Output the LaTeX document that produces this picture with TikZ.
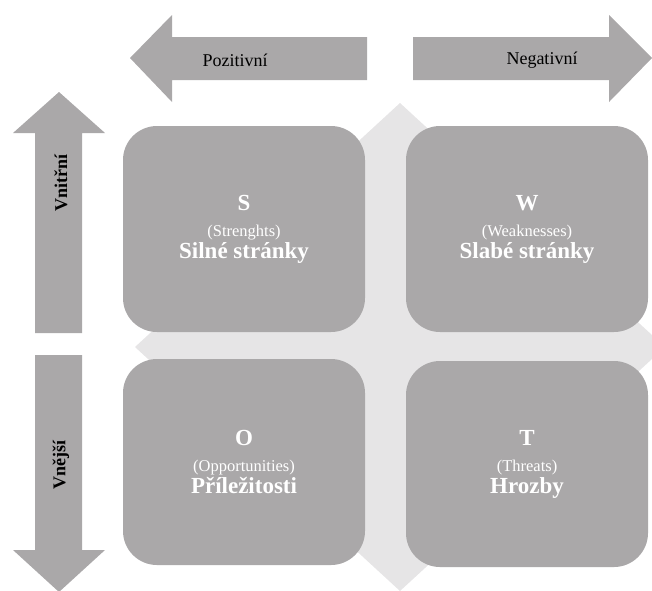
\documentclass[tikz,border=0pt]{standalone}
\usepackage{fontspec}
\setmainfont{Liberation Serif}
\definecolor{swotgray}{HTML}{AAA8A9}
\definecolor{swotlight}{HTML}{E6E5E6}

\begin{document}
\begin{tikzpicture}[x=1pt, y=-1pt,
        quad/.style={fill=swotgray, rounded corners=34pt, minimum width=242pt,
                     minimum height=206pt, align=center, text=white,
                     font=\fontsize{16.5}{25}\selectfont},
        arrowshape/.style={fill=swotgray},
        axis/.style={font=\fontsize{18}{20}\selectfont, text=black},
        axisv/.style={axis, font=\bfseries\fontsize{18}{20}\selectfont, rotate=90}
      ]
        \useasboundingbox (0,0) rectangle (652,590);
        \clip (0,0) rectangle (652,590);

        % background diamond
        \fill[swotlight] (400,103) -- (665,347) -- (400,591) -- (135,347) -- cycle;

        % axis arrows
        \fill[arrowshape] (367,37) -- (172,37) -- (172,15) -- (130,58) -- (172,102) -- (172,80) -- (367,80) -- cycle;
        \fill[arrowshape] (413,37) -- (609,37) -- (609,15) -- (652,58) -- (609,102) -- (609,80) -- (413,80) -- cycle;
        \fill[arrowshape] (35,333) -- (35,133) -- (13,133) -- (59,92) -- (105,133) -- (82,133) -- (82,333) -- cycle;
        \fill[arrowshape] (35,355) -- (35,550) -- (13,550) -- (59,592) -- (105,550) -- (82,550) -- (82,355) -- cycle;

        \node[axis]  (poz) at (235,60) {Pozitivní};
        \node[axis]  (neg) at (542,60) {Negativní};
        \node[axisv] (vni) at (61,183) {Vnitřní};
        \node[axisv] (vne) at (61,465) {Vnější};

        % quadrants
        \node[quad] (s) at (244,229) {{\bfseries\fontsize{23}{25}\selectfont S}\\[1pt]
            (Strenghts)\\[-3pt]
            {\bfseries\fontsize{23}{25}\selectfont Silné stránky}};
        \node[quad] (w) at (527,229) {{\bfseries\fontsize{23}{25}\selectfont W}\\[1pt]
            (Weaknesses)\\[-3pt]
            {\bfseries\fontsize{23}{25}\selectfont Slabé stránky}};
        \node[quad] (o) at (244,462) {{\bfseries\fontsize{23}{25}\selectfont O}\\[1pt]
            (Opportunities)\\[-3pt]
            {\bfseries\fontsize{23}{25}\selectfont Příležitosti}};
        \node[quad] (t) at (527,464) {{\bfseries\fontsize{23}{25}\selectfont T}\\[1pt]
            (Threats)\\[-3pt]
            {\bfseries\fontsize{23}{25}\selectfont Hrozby}};
      \end{tikzpicture}
\end{document}
